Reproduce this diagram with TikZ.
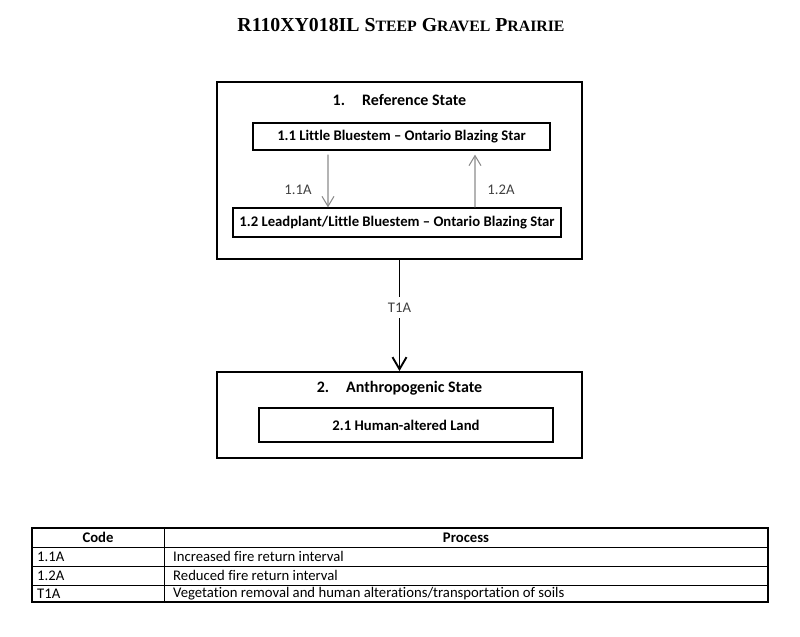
\documentclass[tikz,border=0pt]{standalone}
\usepackage{fontspec}
\setmainfont{Carlito}[Ligatures=CommonOff]
\newfontfamily\titlefont{Liberation Serif}
\usetikzlibrary{arrows.meta,calc}

\tikzset{
  statebox/.style={draw,line width=1.9bp,minimum width=365bp,inner sep=0},
  phasebox/.style={draw,line width=1.2bp,inner sep=0,font=\bfseries\fontsize{14.7bp}{17bp}\selectfont},
  pathway/.style={draw=gray!90,line width=1.1bp,-{Straight Barb[length=10bp,width=12bp]}},
  transition/.style={line width=1.9bp,-{Straight Barb[length=12bp,width=14bp,line width=1.9bp]}},
  codelabel/.style={text=black!75,font=\fontsize{14.7bp}{17bp}\selectfont},
  cell/.style={anchor=west,inner sep=0,font=\fontsize{14.7bp}{17bp}\selectfont},
}

\begin{document}
\begin{tikzpicture}[x=1bp,y=-1bp]
        \useasboundingbox (0,0) rectangle (800,637);
        % title
        \node (title) at (401,25) {\titlefont\bfseries\fontsize{19.8bp}{22bp}\selectfont
          R110XY018IL S{\fontsize{15.8bp}{18bp}\selectfont TEEP} G{\fontsize{15.8bp}{18bp}\selectfont RAVEL} P{\fontsize{15.8bp}{18bp}\selectfont RAIRIE}};
        % states
        \node[statebox,minimum height=177bp] (state1) at (399.5,170.5) {};
        \node[font=\bfseries\fontsize{16bp}{18bp}\selectfont] (state1title) at (399.5,100) {1.\hspace{17bp}Reference State};
        \node[phasebox,minimum width=297bp,minimum height=27bp] (phase11) at (401.5,136.5) {1.1 Little Bluestem -- Ontario Blazing Star};
        \node[phasebox,minimum width=328bp,minimum height=29bp] (phase12) at (397,222.5) {1.2 Leadplant/Little Bluestem -- Ontario Blazing Star};
        \node[statebox,minimum height=86bp] (state2) at (399.5,415) {};
        \node[font=\bfseries\fontsize{16bp}{18bp}\selectfont] (state2title) at (399.5,388) {2.\hspace{17bp}Anthropogenic State};
        \node[phasebox,minimum width=294bp,minimum height=34bp] (phase21) at (406,425) {2.1 Human-altered Land};
        % pathways
        \draw[pathway] ([xshift=-73.5bp,yshift=-4bp]phase11.south) -- ([xshift=-69bp]phase12.north);
        \draw[pathway] ([xshift=78bp]phase12.north) -- ([xshift=73.5bp,yshift=-4bp]phase11.south);
        \node[codelabel] (p11A) at (298,190) {1.1A};
        \node[codelabel] (p12A) at (501,190) {1.2A};
        % transition
        \draw[transition] (state1.south) -- (state2.north) node[pos=0.43,fill=white,codelabel,inner ysep=6bp]{T1A};
        % table
        \draw[line width=1.2bp] (32,528) rectangle (768,602);
        \draw[line width=1bp] (164,528)--(164,602);
        \draw[line width=1bp] (32,547)--(768,547);
        \draw[line width=1bp] (32,566)--(768,566);
        \draw[line width=1bp] (32,585)--(768,585);
        \node[font=\bfseries\fontsize{14.7bp}{17bp}\selectfont] (codehead) at (98,537.5) {Code};
        \node[font=\bfseries\fontsize{14.7bp}{17bp}\selectfont] (prochead) at (466,537.5) {Process};
        \node[cell] (code1) at (37,556.5) {1.1A};
        \node[cell] (proc1) at (173,556.5) {Increased fire return interval};
        \node[cell] (code2) at (37,575.5) {1.2A};
        \node[cell] (proc2) at (173,575.5) {Reduced fire return interval};
        \node[cell] (code3) at (37,593.5) {T1A};
        \node[cell] (proc3) at (173,593.5) {Vegetation removal and human alterations/transportation of soils};
\end{tikzpicture}
\end{document}
